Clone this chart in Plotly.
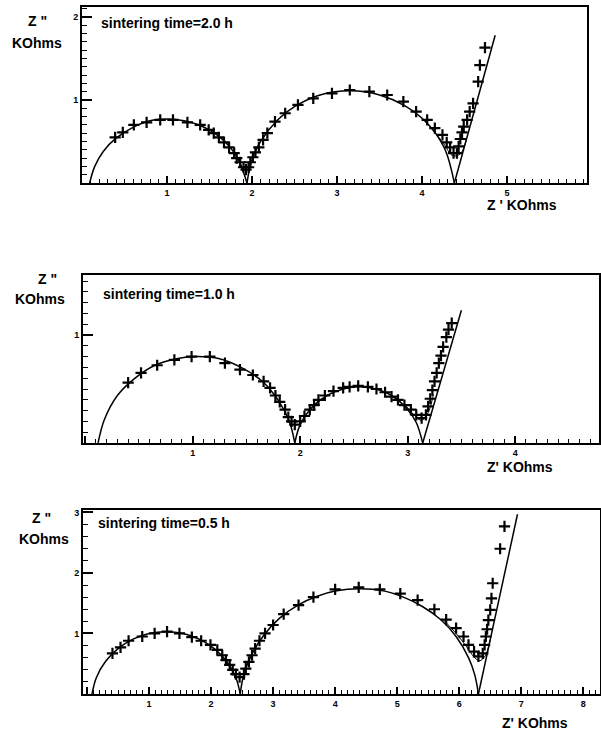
import plotly.graph_objects as go

W, H = 601, 732

# ---------------- data ----------------
re_2h = [0.39, 0.48, 0.61, 0.76, 0.92, 1.07, 1.24, 1.39, 1.49, 1.55, 1.61, 1.67, 1.73, 1.79, 1.82,
         1.86, 1.90, 1.93, 1.96, 1.98, 2.01, 2.04, 2.08, 2.13, 2.18, 2.27, 2.39, 2.54, 2.72, 2.94,
         3.15, 3.38, 3.59, 3.78, 3.93, 4.06, 4.15, 4.24, 4.29, 4.33, 4.37, 4.41, 4.43, 4.45, 4.47,
         4.49, 4.53, 4.56, 4.60, 4.66, 4.68, 4.74]
im_2h = [0.55, 0.61, 0.70, 0.73, 0.76, 0.76, 0.73, 0.70, 0.64, 0.60, 0.55, 0.49, 0.43, 0.36, 0.30,
         0.25, 0.19, 0.16, 0.19, 0.25, 0.31, 0.37, 0.43, 0.52, 0.60, 0.74, 0.84, 0.94, 1.02, 1.08,
         1.12, 1.10, 1.06, 0.98, 0.86, 0.76, 0.66, 0.58, 0.49, 0.43, 0.36, 0.36, 0.44, 0.53, 0.61,
         0.68, 0.76, 0.86, 0.96, 1.22, 1.42, 1.63]
fit_re_2h = [0.09, 0.15, 0.25, 0.40, 0.60, 0.80, 1.00, 1.20, 1.40, 1.60, 1.75, 1.85, 1.94, None,
             1.94, 2.00, 2.10, 2.30, 2.50, 2.80, 3.16, 3.50, 3.80, 4.00, 4.15, 4.28, 4.38, None,
             4.38, 4.86]
fit_im_2h = [0, 0.20, 0.38, 0.54, 0.67, 0.75, 0.77, 0.75, 0.69, 0.57, 0.42, 0.26, 0, None,
             0, 0.28, 0.50, 0.76, 0.92, 1.06, 1.11, 1.06, 0.93, 0.78, 0.61, 0.38, 0, None,
             0, 1.78]
fit2_re_2h = [4.10, 4.25, 4.36, 4.45, 4.52]
fit2_im_2h = [0.68, 0.48, 0.33, 0.35, 0.52]

re_1h = [0.40, 0.52, 0.67, 0.83, 0.99, 1.16, 1.30, 1.44, 1.56, 1.66, 1.72, 1.77, 1.81, 1.86, 1.89,
         1.92, 1.95, 2.00, 2.04, 2.09, 2.13, 2.17, 2.23, 2.31, 2.40, 2.46, 2.54, 2.63, 2.71, 2.79,
         2.85, 2.91, 2.97, 3.03, 3.08, 3.13, 3.17, 3.19, 3.21, 3.23, 3.25, 3.27, 3.29, 3.31, 3.33,
         3.36, 3.38, 3.41]
im_1h = [0.56, 0.65, 0.72, 0.77, 0.80, 0.80, 0.74, 0.68, 0.63, 0.57, 0.51, 0.44, 0.38, 0.31, 0.24,
         0.20, 0.17, 0.20, 0.25, 0.31, 0.35, 0.40, 0.44, 0.48, 0.51, 0.52, 0.53, 0.52, 0.50, 0.47,
         0.43, 0.40, 0.35, 0.31, 0.26, 0.23, 0.26, 0.34, 0.41, 0.49, 0.57, 0.65, 0.74, 0.81, 0.89,
         0.98, 1.05, 1.11]
fit_re_1h = [0.12, 0.18, 0.30, 0.45, 0.65, 0.85, 1.035, 1.25, 1.45, 1.65, 1.80, 1.90, 1.95, None,
             1.95, 2.00, 2.10, 2.25, 2.40, 2.545, 2.70, 2.85, 3.00, 3.08, 3.14, None,
             3.14, 3.50]
fit_im_1h = [0, 0.22, 0.44, 0.59, 0.72, 0.78, 0.80, 0.78, 0.70, 0.57, 0.39, 0.20, 0, None,
             0, 0.17, 0.32, 0.44, 0.50, 0.52, 0.50, 0.44, 0.31, 0.19, 0, None,
             0, 1.23]
fit2_re_1h = [2.98, 3.07, 3.13, 3.19, 3.24]
fit2_im_1h = [0.35, 0.25, 0.21, 0.28, 0.45]

re_05h = [0.41, 0.54, 0.67, 0.89, 1.09, 1.29, 1.49, 1.69, 1.84, 1.99, 2.10, 2.18, 2.24, 2.30, 2.35,
          2.40, 2.46, 2.53, 2.56, 2.61, 2.66, 2.71, 2.78, 2.87, 3.00, 3.17, 3.41, 3.65, 4.00, 4.38,
          4.72, 5.05, 5.33, 5.60, 5.79, 5.95, 6.07, 6.15, 6.24, 6.31, 6.38, 6.41, 6.43, 6.45, 6.47,
          6.50, 6.52, 6.54, 6.66, 6.73]
im_05h = [0.67, 0.77, 0.88, 0.95, 1.00, 1.03, 1.00, 0.94, 0.88, 0.81, 0.73, 0.64, 0.56, 0.48, 0.40,
          0.33, 0.28, 0.33, 0.42, 0.53, 0.64, 0.75, 0.88, 1.00, 1.14, 1.32, 1.47, 1.60, 1.73, 1.76,
          1.73, 1.66, 1.55, 1.40, 1.23, 1.09, 0.95, 0.81, 0.70, 0.62, 0.67, 0.81, 0.95, 1.07, 1.22,
          1.39, 1.58, 1.83, 2.40, 2.77]
fit_re_05h = [0.08, 0.15, 0.30, 0.50, 0.75, 1.00, 1.275, 1.55, 1.80, 2.05, 2.25, 2.40, 2.47, None,
              2.47, 2.52, 2.65, 2.85, 3.10, 3.40, 3.70, 4.00, 4.39, 4.80, 5.10, 5.40, 5.70, 5.95,
              6.15, 6.25, 6.31, None, 6.31, 6.94]
fit_im_05h = [0, 0.27, 0.54, 0.75, 0.91, 1.00, 1.03, 1.00, 0.91, 0.75, 0.54, 0.27, 0, None,
              0, 0.29, 0.64, 0.97, 1.25, 1.47, 1.61, 1.70, 1.74, 1.70, 1.60, 1.45, 1.23, 0.95,
              0.60, 0.32, 0, None, 0, 2.97]
fit2_re_05h = [5.75, 5.95, 6.12, 6.25, 6.33, 6.42, 6.50]
fit2_im_05h = [1.22, 1.00, 0.78, 0.60, 0.55, 0.63, 0.90]

titles = ["sintering time=2.0 h", "sintering time=1.0 h", "sintering time=0.5 h"]
xtitles = ["Z ' KOhms", "Z' KOhms", "Z' KOhms"]
ylabel_top = 'Z "'
ylabel_unit = "KOhms"

panels = [
    (re_2h, im_2h, fit_re_2h, fit_im_2h, fit2_re_2h, fit2_im_2h),
    (re_1h, im_1h, fit_re_1h, fit_im_1h, fit2_re_1h, fit2_im_1h),
    (re_05h, im_05h, fit_re_05h, fit_im_05h, fit2_re_05h, fit2_im_05h),
]

boxes = [  # left, right, top, bottom (pixels)
    (82, 587, 7, 183),
    (83, 599, 275, 443),
    (83, 600, 510, 694),
]
xranges = [[0, 5.94], [-0.02, 4.78], [-0.065, 8.27]]
yranges = [[0, 2.12], [0, 1.556], [0, 3.04]]
yminor = [0.1, 0.1, 0.2]

FONT = "Liberation Sans, Arial, sans-serif"

fig = go.Figure()

def px(x):
    return x / W

def py(y):
    return 1 - y / H

for i, (re, im, fre, fim, f2re, f2im) in enumerate(panels):
    xa = "x" if i == 0 else "x%d" % (i + 1)
    ya = "y" if i == 0 else "y%d" % (i + 1)
    fig.add_trace(go.Scatter(x=fre, y=fim, mode="lines", xaxis=xa, yaxis=ya,
                             line=dict(color="black", width=1.5, shape="spline", smoothing=1.0),
                             connectgaps=False, hoverinfo="skip"))
    fig.add_trace(go.Scatter(x=f2re, y=f2im, mode="lines", xaxis=xa, yaxis=ya,
                             line=dict(color="black", width=1.0, shape="spline"),
                             hoverinfo="skip"))
    fig.add_trace(go.Scatter(x=re, y=im, mode="markers", xaxis=xa, yaxis=ya,
                             marker=dict(symbol="cross-thin", size=8,
                                         line=dict(color="black", width=2.2))))

fig.update_layout(
    template="simple_white",
    width=W, height=H,
    margin=dict(l=0, r=0, t=0, b=0),
    paper_bgcolor="white", plot_bgcolor="white",
    showlegend=False,
    font=dict(family=FONT, color="black"),
)

for i in range(3):
    l, r, t, b = boxes[i]
    xkey = "xaxis" if i == 0 else "xaxis%d" % (i + 1)
    ykey = "yaxis" if i == 0 else "yaxis%d" % (i + 1)
    xa = "x" if i == 0 else "x%d" % (i + 1)
    ya = "y" if i == 0 else "y%d" % (i + 1)
    fig.update_layout(**{
        xkey: dict(domain=[px(l), px(r)], range=xranges[i], anchor=ya, automargin=False,
                   showline=True, linecolor="black", linewidth=2, mirror=True,
                   ticks="inside", ticklen=7, tickwidth=1.5, tickcolor="black",
                   tick0=0, dtick=1, showgrid=False, zeroline=False,
                   labelalias={"0": " "},
                   tickfont=dict(family=FONT, size=9, color="black", weight="bold"),
                   minor=dict(ticks="inside", ticklen=4, tickwidth=1, tickcolor="black",
                              dtick=0.1, showgrid=False)),
        ykey: dict(domain=[py(b), py(t)], range=yranges[i], anchor=xa, automargin=False,
                   showline=True, linecolor="black", linewidth=2, mirror=True,
                   ticks="inside", ticklen=10, tickwidth=1.5, tickcolor="black",
                   tick0=0, dtick=1, showgrid=False, zeroline=False,
                   labelalias={"0": " "},
                   tickfont=dict(family=FONT, size=9, color="black", weight="bold"),
                   minor=dict(ticks="inside", ticklen=5, tickwidth=1, tickcolor="black",
                              dtick=yminor[i], showgrid=False)),
    })

annotations = []
def ann(text, x, y, size=14, xanchor="center"):
    annotations.append(dict(text=text, x=px(x), y=py(y), xref="paper", yref="paper",
                            showarrow=False, xanchor=xanchor, yanchor="middle",
                            font=dict(family=FONT, size=size, color="black", weight="bold")))

ann(ylabel_top, 37, 21)
ann(ylabel_unit, 37, 43)
ann(titles[0], 99, 23, xanchor="left")
ann(xtitles[0], 522, 205)
ann(ylabel_top, 47, 279)
ann(ylabel_unit, 40, 299)
ann(titles[1], 101, 294, xanchor="left")
ann(xtitles[1], 520, 467)
ann(ylabel_top, 42, 518)
ann(ylabel_unit, 44, 539)
ann(titles[2], 96, 523, xanchor="left")
ann(xtitles[2], 535, 723)

fig.update_layout(annotations=annotations)
fig.write_html("out.html")
